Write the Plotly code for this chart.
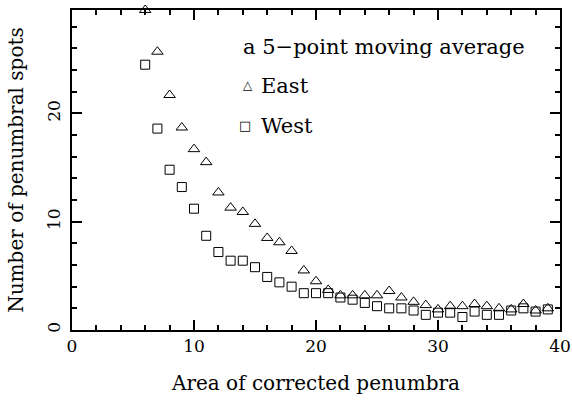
import plotly.graph_objects as go

area = list(range(6, 40))
east = [29.55, 25.7, 21.7, 18.7, 16.7, 15.5, 12.7, 11.3, 10.9, 9.8,
        8.5, 8.1, 7.3, 5.5, 4.5, 3.7, 3.2, 3.2, 3.2, 3.2,
        3.6, 3.0, 2.6, 2.3, 1.9, 2.2, 2.2, 2.4, 2.2, 2.0,
        1.9, 2.4, 1.8, 2.0]
west = [24.5, 18.6, 14.8, 13.2, 11.2, 8.7, 7.2, 6.4, 6.4, 5.8,
        4.9, 4.4, 4.0, 3.4, 3.4, 3.4, 3.0, 2.8, 2.5, 2.2,
        2.0, 2.0, 1.8, 1.4, 1.6, 1.6, 1.2, 1.7, 1.4, 1.4,
        1.8, 2.0, 1.7, 1.9]

FONT = "DejaVu Serif"
BLACK = "black"

fig = go.Figure()
fig.add_trace(go.Scatter(x=area, y=east, mode="markers", name="East",
                         marker=dict(symbol="triangle-up-open", size=10,
                                     color=BLACK, line=dict(width=1)),
                         cliponaxis=False))
fig.add_trace(go.Scatter(x=area, y=west, mode="markers", name="West",
                         marker=dict(symbol="square-open", size=9,
                                     color=BLACK, line=dict(width=1)),
                         cliponaxis=False))

axis_common = dict(showgrid=False, zeroline=False, showline=True,
                   linecolor=BLACK, linewidth=2, mirror="ticks",
                   ticks="inside", tickcolor=BLACK, tickwidth=1.5,
                   ticklen=10, automargin=False, layer="below traces",
                   tickfont=dict(family=FONT, size=17, color=BLACK))
minor_common = dict(ticks="inside", ticklen=5, tickcolor=BLACK, tickwidth=1.5)

fig.update_xaxes(range=[0, 40], dtick=10, tick0=0,
                 minor=dict(dtick=2, **minor_common),
                 title=dict(text="Area of corrected penumbra",
                            font=dict(family=FONT, size=20, color=BLACK),
                            standoff=21),
                 **axis_common)
fig.update_yaxes(range=[0, 29.55], dtick=10, tick0=0, tickangle=-90,
                 ticklabelstandoff=3,
                 minor=dict(dtick=2, **minor_common),
                 title=dict(text="Number of penumbral spots",
                            font=dict(family=FONT, size=20, color=BLACK),
                            standoff=15),
                 **axis_common)

# key text
fig.add_annotation(x=0.347, y=0.884, xref="paper", yref="paper",
                   xanchor="left", yanchor="middle", showarrow=False,
                   text="a 5\u2212point moving average",
                   font=dict(family=FONT, size=21, color=BLACK))
fig.add_annotation(x=0.361, y=0.765, xref="paper", yref="paper",
                   xanchor="center", yanchor="middle", showarrow=False,
                   text="\u25b3", font=dict(family=FONT, size=12, color=BLACK))
fig.add_annotation(x=0.384, y=0.762, xref="paper", yref="paper",
                   xanchor="left", yanchor="middle", showarrow=False,
                   text="East", font=dict(family=FONT, size=21, color=BLACK))
fig.add_annotation(x=0.355, y=0.640, xref="paper", yref="paper",
                   xanchor="center", yanchor="middle", showarrow=False,
                   text="\u25a1", font=dict(family=FONT, size=13, color=BLACK))
fig.add_annotation(x=0.384, y=0.6375, xref="paper", yref="paper",
                   xanchor="left", yanchor="middle", showarrow=False,
                   text="West", font=dict(family=FONT, size=21, color=BLACK))

fig.update_layout(width=572, height=403, showlegend=False,
                  plot_bgcolor="white", paper_bgcolor="white",
                  margin=dict(l=72, r=12, t=10, b=73))

# remove the default page margin so the figure fills the window
fig.write_html("out.html",
               config={"displayModeBar": False},
               post_script="document.body.style.margin='0px';"
                           "document.body.style.overflow='hidden';")
